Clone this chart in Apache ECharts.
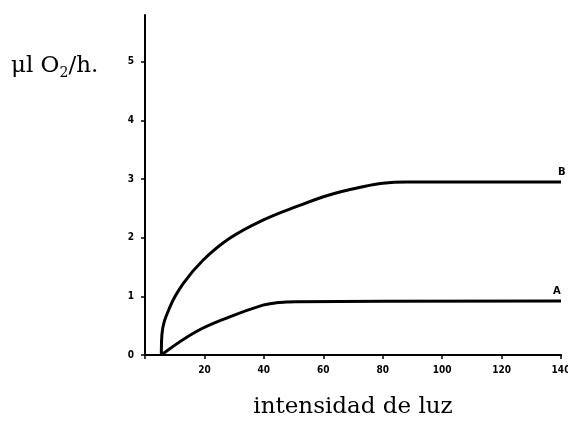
<!DOCTYPE html>
<html><head><meta charset="utf-8">
<script src="https://cdn.jsdelivr.net/npm/echarts@6/dist/echarts.min.js"></script>
<style>html,body{margin:0;padding:0;background:#fff}#c{width:568px;height:421px}</style>
</head><body><div id="c"></div>
<script>
var xTicks = [0, 20, 40, 60, 80, 100, 120, 140];
var yTicks = [0, 1, 2, 3, 4, 5];
var curveBx = [5.5, 5.7, 8.4, 12.9, 19.6, 28.5, 39.7, 50.9, 62, 73.3, 80, 88, 140];
var curveBy = [0, 0.35, 0.82, 1.22, 1.62, 1.99, 2.30, 2.53, 2.73, 2.87, 2.93, 2.95, 2.95];
var curveAx = [5.5, 17.3, 28.5, 39.7, 44.2, 50.9, 140];
var curveAy = [0, 0.40, 0.65, 0.85, 0.89, 0.91, 0.92];
var seriesNames = ['A', 'B'];

function pairs(xs, ys){ return xs.map(function(x,i){ return [x, ys[i]]; }); }

var chart = echarts.init(document.getElementById('c'), null, {renderer:'canvas'});
chart.setOption({
  animation:false,
  backgroundColor:'#fff',
  grid:{left:145, right:7, top:15, bottom:66, outerBoundsMode:'none', containLabel:false},
  xAxis:{type:'value', min:xTicks[0], max:xTicks[xTicks.length-1], interval:20,
    axisLine:{onZero:false, lineStyle:{color:'#000', width:2}},
    axisTick:{show:true, length:4, lineStyle:{color:'#000', width:1.5}},
    axisLabel:{margin:10, color:'#000', fontFamily:'DejaVu Sans Condensed', fontWeight:'bold', fontSize:10,
      formatter:function(v){return v===0?'':String(v);}},
    splitLine:{show:false},
    name:'intensidad de luz', nameLocation:'middle', nameGap:41,
    nameTextStyle:{color:'#000', fontFamily:'DejaVu Serif', fontSize:23}
  },
  yAxis:{type:'value', min:yTicks[0], max:5.8, interval:1,
    axisLine:{show:true, lineStyle:{color:'#000', width:2}},
    axisTick:{show:true, length:4, lineStyle:{color:'#000', width:1.5}},
    axisLabel:{margin:11, color:'#000', fontFamily:'DejaVu Sans Condensed', fontWeight:'bold', fontSize:10,
      showMaxLabel:false, formatter:function(v){return yTicks.indexOf(v)>=0?String(v):'';}},
    splitLine:{show:false}
  },
  graphic:[{type:'text', left:11, top:55, style:{
    rich:{n:{fontFamily:'DejaVu Serif', fontSize:23, fill:'#000'}, s:{fontFamily:'DejaVu Serif', fontSize:14, fill:'#000', padding:[13,0,0,0]}},
    text:'{n|μl O}{s|2}{n|/h.}'}}],
  series:[
    {name:seriesNames[0], type:'line', data:pairs(curveAx, curveAy), smooth:0.4, symbol:'none',
     lineStyle:{color:'#000', width:3},
     endLabel:{show:true, formatter:seriesNames[0], offset:[-16,-10], color:'#000', fontFamily:'DejaVu Sans', fontWeight:'bold', fontSize:10}},
    {name:seriesNames[1], type:'line', data:pairs(curveBx, curveBy), smooth:0.4, symbol:'none',
     lineStyle:{color:'#000', width:3},
     endLabel:{show:true, formatter:seriesNames[1], offset:[-11,-10], color:'#000', fontFamily:'DejaVu Sans', fontWeight:'bold', fontSize:10}}
  ]
});
</script></body></html>
